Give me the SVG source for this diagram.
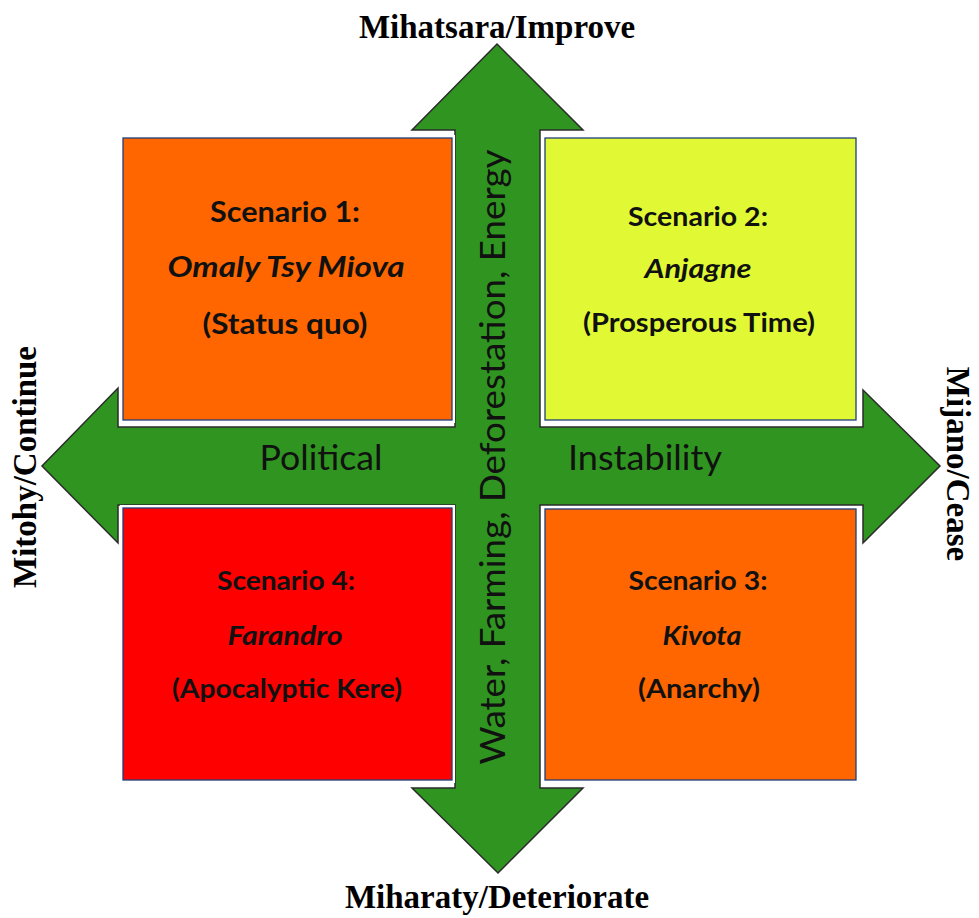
<svg xmlns="http://www.w3.org/2000/svg" width="979" height="918" viewBox="0 0 979 918">
<style>
.axis{font-family:"Liberation Serif","Times New Roman",serif;font-weight:bold;font-size:33px;fill:#000;text-anchor:middle}
.mid{font-family:Lato,"Open Sans","Noto Sans",sans-serif;font-size:34px;fill:#111;text-anchor:middle}
.halo{fill:#ffffff}
.edge{stroke:#1f3e7a;stroke-width:1.3}
.t{font-family:Lato,"Open Sans","Noto Sans",sans-serif;font-weight:bold;font-size:26px;fill:#111;text-anchor:middle}
.big{font-size:28px}
.i{font-style:italic}
</style>
<g id="connectors">
<polygon points="497,44 583,130 540,130 540,427 863,427 863,390 940,466 863,543 863,505 540,505 540,788 583,788 498,873 412,788 455,788 455,505 118,505 118,543 42,466 118,388 118,427 455,427 455,130 412,130" fill="#2f9520" stroke="#2b2b2b" stroke-width="1.5" stroke-linejoin="miter"/>
</g>
<g id="labels">
<text class="axis" x="497" y="38">Mihatsara/Improve</text>
<text class="axis" x="497" y="908">Miharaty/Deteriorate</text>
<text class="axis" transform="translate(36,467) rotate(-90)">Mitohy/Continue</text>
<text class="axis" transform="translate(947,464) rotate(90)">Mijano/Cease</text>
<text class="mid" x="321" y="470" textLength="123" lengthAdjust="spacingAndGlyphs">Political</text>
<text class="mid" x="645" y="470" textLength="154" lengthAdjust="spacingAndGlyphs">Instability</text>
<text class="mid" transform="translate(505,457) rotate(-90)" textLength="615" lengthAdjust="spacingAndGlyphs">Water, Farming, Deforestation, Energy</text>
</g>
<g id="scenario1">
<rect class="halo" x="120" y="135" width="335" height="288"/>
<rect class="edge" x="123" y="138" width="329" height="282" fill="#ff6600"/>
<text class="t big" x="285" y="222" textLength="150" lengthAdjust="spacingAndGlyphs">Scenario 1:</text>
<text class="t big i" x="286" y="277" textLength="237" lengthAdjust="spacingAndGlyphs">Omaly Tsy Miova</text>
<text class="t big" x="285" y="334" textLength="165" lengthAdjust="spacingAndGlyphs">(Status quo)</text>
</g>
<g id="scenario2">
<rect class="halo" x="542" y="135" width="317" height="288"/>
<rect class="edge" x="545" y="138" width="311" height="282" fill="#e0f934"/>
<text class="t" x="698" y="226" textLength="140" lengthAdjust="spacingAndGlyphs">Scenario 2:</text>
<text class="t i" x="698" y="278" textLength="107" lengthAdjust="spacingAndGlyphs">Anjagne</text>
<text class="t" x="699" y="332" textLength="232" lengthAdjust="spacingAndGlyphs">(Prosperous Time)</text>
</g>
<g id="scenario4">
<rect class="halo" x="120" y="505" width="335" height="278"/>
<rect class="edge" x="123" y="508" width="329" height="272" fill="#ff0000"/>
<text class="t" x="286" y="590" textLength="138" lengthAdjust="spacingAndGlyphs">Scenario 4:</text>
<text class="t i" x="285" y="645" textLength="115" lengthAdjust="spacingAndGlyphs">Farandro</text>
<text class="t" x="287" y="698" textLength="230" lengthAdjust="spacingAndGlyphs">(Apocalyptic Kere)</text>
</g>
<g id="scenario3">
<rect class="halo" x="542" y="506" width="317" height="277"/>
<rect class="edge" x="545" y="509" width="311" height="271" fill="#ff6600"/>
<text class="t" x="698" y="590" textLength="139" lengthAdjust="spacingAndGlyphs">Scenario 3:</text>
<text class="t i" x="702" y="645" textLength="79" lengthAdjust="spacingAndGlyphs">Kivota</text>
<text class="t" x="699" y="698" textLength="122" lengthAdjust="spacingAndGlyphs">(Anarchy)</text>
</g>
</svg>
